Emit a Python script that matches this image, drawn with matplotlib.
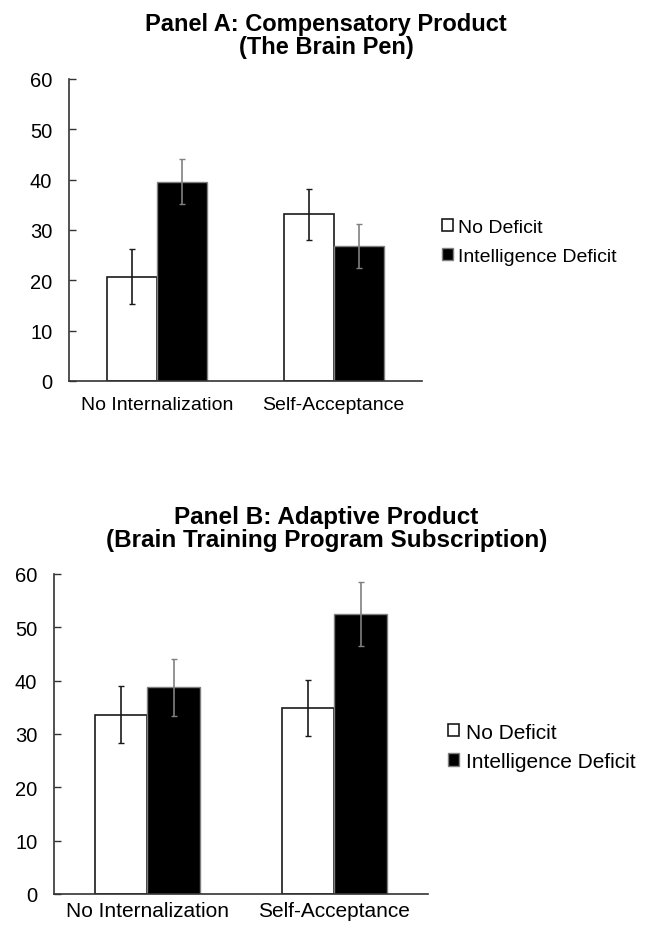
import matplotlib
matplotlib.use("Agg")
import matplotlib.pyplot as plt
import numpy as np

plt.rcParams["font.family"] = ["Liberation Sans", "DejaVu Sans"]

categories = ["No Internalization", "Self-Acceptance"]
series_names = ["No Deficit", "Intelligence Deficit"]

# Panel A: Compensatory Product
a_no_deficit = [20.7, 33.1]
a_no_deficit_err = [5.5, 5.1]
a_deficit = [39.6, 26.8]
a_deficit_err = [4.5, 4.45]

# Panel B: Adaptive Product
b_no_deficit = [33.6, 34.8]
b_no_deficit_err = [5.35, 5.25]
b_deficit = [38.75, 52.5]
b_deficit_err = [5.4, 6.0]


def draw_panel(ax, white, white_err, black, black_err, label_size, xpad, legend_x, spacing):
    x = np.arange(len(categories))
    w = 0.283
    ax.bar(x - w / 2, white, w, color="white", edgecolor="#1a1a1a", linewidth=1.2,
           label=series_names[0], zorder=2)
    ax.bar(x + w / 2, black, w, color="black", edgecolor="#7f7f7f", linewidth=1.0,
           label=series_names[1], zorder=2)
    ax.errorbar(x - w / 2, white, yerr=white_err, fmt="none", ecolor="#1a1a1a",
                elinewidth=1.2, capsize=2.5, capthick=1.0, zorder=3)
    ax.errorbar(x + w / 2, black, yerr=black_err, fmt="none", ecolor="#808080",
                elinewidth=1.2, capsize=2.5, capthick=1.0, zorder=3)
    ax.set_xlim(-0.5, len(categories) - 0.5)
    ax.set_ylim(0, 60)
    ax.set_yticks(range(0, 61, 10))
    ax.set_xticks(x)
    ax.set_xticklabels(categories, fontsize=label_size)
    ax.tick_params(axis="y", direction="in", length=5, width=1, labelsize=14.5, pad=12,
                   color="#333333")
    ax.tick_params(axis="x", length=0, pad=xpad)
    for side in ["top", "right"]:
        ax.spines[side].set_visible(False)
    for side in ["left", "bottom"]:
        ax.spines[side].set_color("#333333")
        ax.spines[side].set_linewidth(1.2)
    ax.legend(loc="center left", bbox_to_anchor=(legend_x, 0.46), frameon=False,
              fontsize=label_size, handlelength=0.55, handleheight=0.55,
              handletextpad=0.3, labelspacing=spacing, borderpad=0, borderaxespad=0)


fig = plt.figure(figsize=(6.46, 9.28), dpi=100)
ax_a = fig.add_axes([0.1068, 0.5884, 0.5462, 0.3254])
ax_b = fig.add_axes([0.0836, 0.0356, 0.5789, 0.3448])

draw_panel(ax_a, a_no_deficit, a_no_deficit_err, a_deficit, a_deficit_err, 14, 11, 1.057, 0.6)
draw_panel(ax_b, b_no_deficit, b_no_deficit_err, b_deficit, b_deficit_err, 15, 5, 1.053, 0.5)

fig.text(0.505, 1 - 36 / 928, "Panel A: Compensatory Product\n(The Brain Pen)",
         ha="center", va="center", fontsize=17, fontweight="bold", linespacing=1.0)
fig.text(0.505, 1 - 529 / 928, "Panel B: Adaptive Product\n(Brain Training Program Subscription)",
         ha="center", va="center", fontsize=17.5, fontweight="bold", linespacing=1.0)

fig.savefig("out.png", dpi=100, facecolor="white")
